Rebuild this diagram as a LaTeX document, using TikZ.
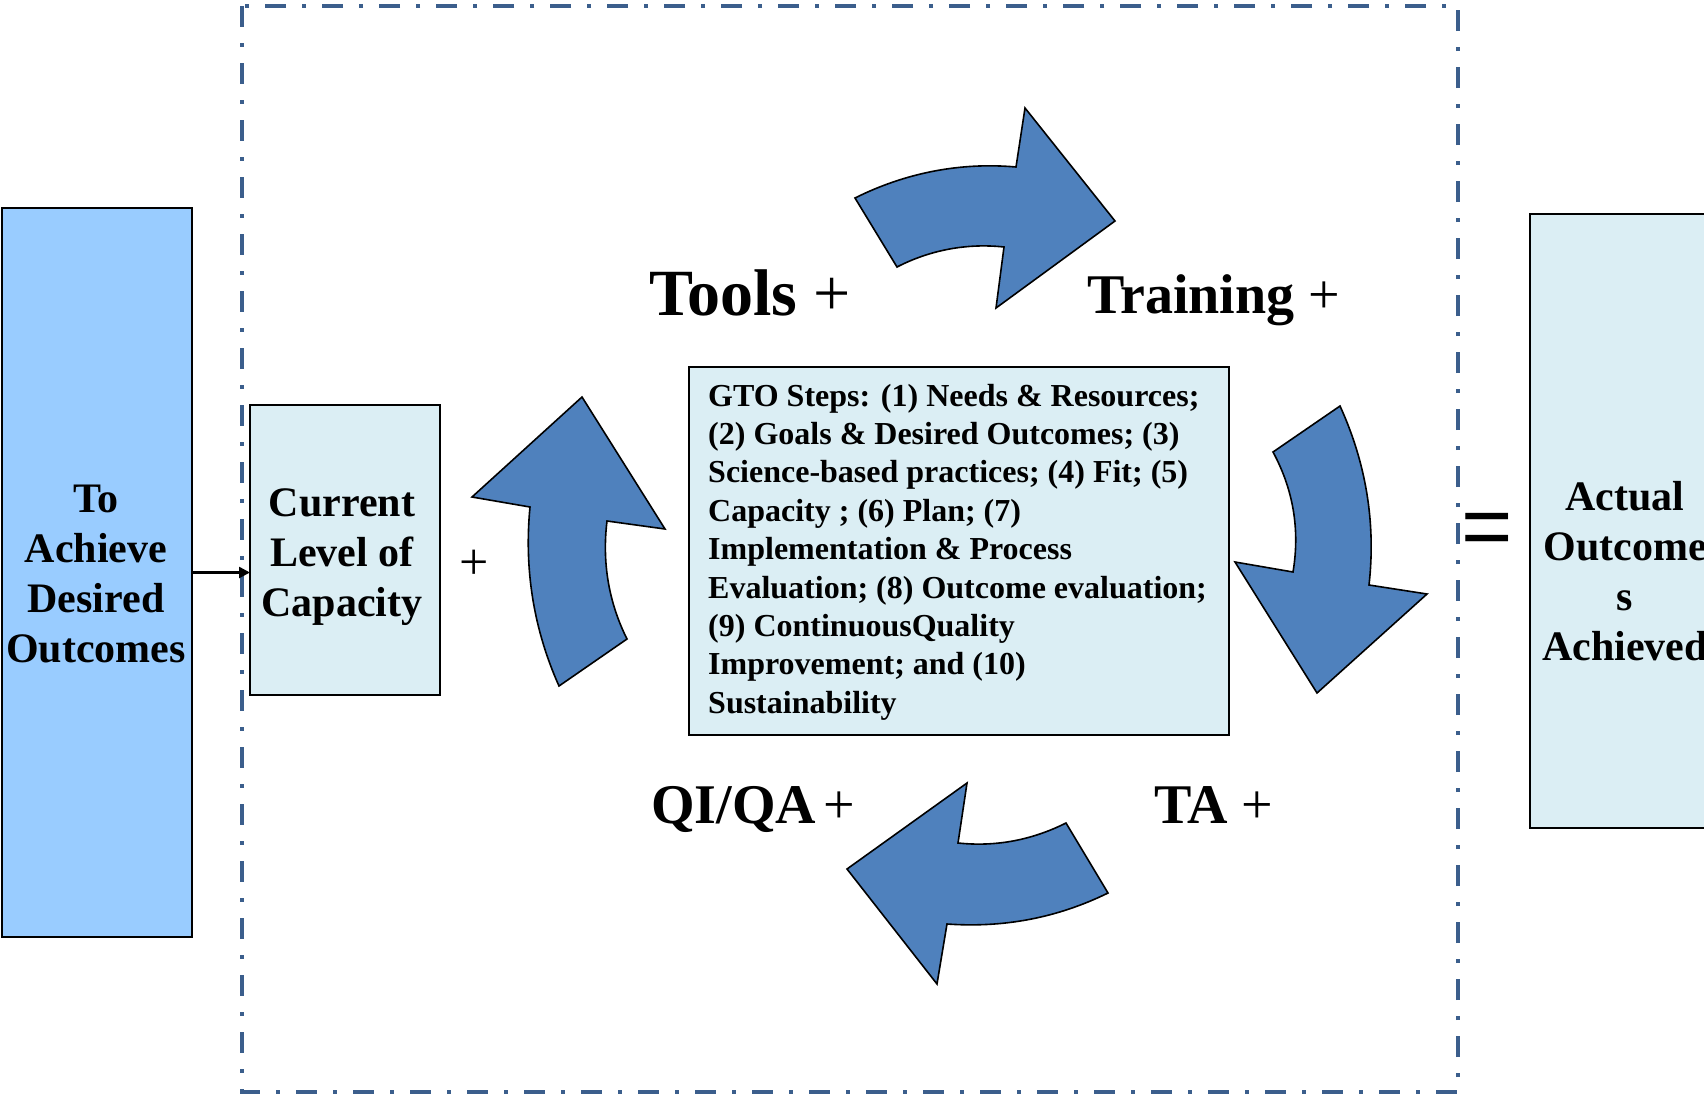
\documentclass[tikz,border=0pt]{standalone}
\usepackage{fontspec}
\setmainfont{Liberation Serif}
\newfontfamily\eqfont{Liberation Sans}
\usetikzlibrary{arrows.meta}
\definecolor{frameblue}{HTML}{3B5E8C}
\definecolor{paleblue}{HTML}{DBEEF4}
\definecolor{skyblue}{HTML}{99CCFF}
\definecolor{arrowblue}{HTML}{4F81BD}
\begin{document}
\begin{tikzpicture}[x=1pt,y=-1pt,
  panel/.style={draw=black, line width=2pt, inner sep=0pt, outer sep=0pt, anchor=north west},
  boxtext/.style={font=\bfseries\fontsize{42}{50}\selectfont, inner sep=0pt, anchor=base},
  steptext/.style={font=\bfseries\fontsize{32}{38.4}\selectfont, inner sep=0pt, anchor=base west},
  cyclelabel/.style={font=\fontsize{#1}{#1}\selectfont, inner sep=0pt, anchor=base west},
  blockarrow/.style={fill=arrowblue, draw=black, line width=1.6pt, line join=miter},
  frame/.style={draw=frameblue, line width=4.5pt, dash pattern=on 21pt off 16pt on 4pt off 16pt}
]
\clip (0,0) rectangle (1704,1095);
\fill[white] (0,0) rectangle (1704,1095);

% dash-dot frame
\draw[frame] (242,6) rectangle (1458,1092);

% boxes
\node[panel, fill=skyblue, minimum width=190, minimum height=729] (goal) at (2,208) {};
\node[boxtext] (goaltext) at (96,512) {\begin{tabular}[t]{@{}c@{}}To\\Achieve\\Desired\\Outcomes\end{tabular}};

\node[panel, fill=paleblue, minimum width=190, minimum height=290] (cap) at (250,405) {};
\node[boxtext] (captext) at (342,516) {\begin{tabular}[t]{@{}c@{}}Current\\Level of\\Capacity\end{tabular}};

\node[panel, fill=paleblue, minimum width=540, minimum height=368] (gto) at (689,367) {};
\node[steptext] (gtotext) at (708,406) {\begin{tabular}[t]{@{}l@{}}GTO Steps: (1) Needs \& Resources;\\(2) Goals \& Desired Outcomes; (3)\\Science-based practices; (4) Fit; (5)\\Capacity ; (6) Plan; (7)\\Implementation \& Process\\Evaluation; (8) Outcome evaluation;\\(9) ContinuousQuality\\Improvement; and (10)\\Sustainability\end{tabular}};

\node[panel, fill=paleblue, minimum width=190, minimum height=614] (actual) at (1530,214) {};
\node[boxtext] (actualtext) at (1625,510) {\begin{tabular}[t]{@{}c@{}}Actual\\Outcome\\s\\Achieved\end{tabular}};

% connector
\draw[line width=2.5pt, -{Triangle[length=11pt,width=11pt]}] (goal.east) -- (goal.east -| cap.west);

% operators
\node[font=\fontsize{52}{52}\selectfont, inner sep=0pt] (plus) at (474,565) {+};
\node[font=\eqfont\fontsize{88}{88}\selectfont, inner sep=0pt, anchor=base west] (equals) at (1461,556) {=};

% cycle labels
\node[cyclelabel=66] (tools) at (649,315) {\textbf{Tools} +};
\node[cyclelabel=56] (training) at (1087,313) {\textbf{Training} +};
\node[cyclelabel=56] (qiqa) at (651,823) {\textbf{QI/QA}\hspace{7pt}+};
\node[cyclelabel=56] (ta) at (1154,823) {\textbf{TA} +};

% curved block arrows
\draw[blockarrow] (855,198) .. controls (905,173) and (960,162) .. (1016,167) -- (1025,108) -- (1115,221) -- (996,308) -- (1004,247) .. controls (967,243) and (930,250) .. (897,267) -- cycle;
\draw[blockarrow] (1340,406) .. controls (1366,463) and (1376,523) .. (1369,585) -- (1427,594) -- (1317,693) -- (1235,562) -- (1293,572) .. controls (1300,530) and (1293.5,490) .. (1273,452) -- cycle;
\draw[blockarrow] (559,686) .. controls (533.5,629) and (524,569) .. (530,507) -- (472,497) -- (582,397) -- (665,529) -- (607,521) .. controls (602,562) and (608.5,602) .. (627,639) -- cycle;
\draw[blockarrow] (1108,893) .. controls (1057,918) and (1003.5,928) .. (947,924) -- (937,984) -- (847,869) -- (967,783) -- (958,843) .. controls (996,847) and (1032,840) .. (1066,823) -- cycle;
\end{tikzpicture}
\end{document}
